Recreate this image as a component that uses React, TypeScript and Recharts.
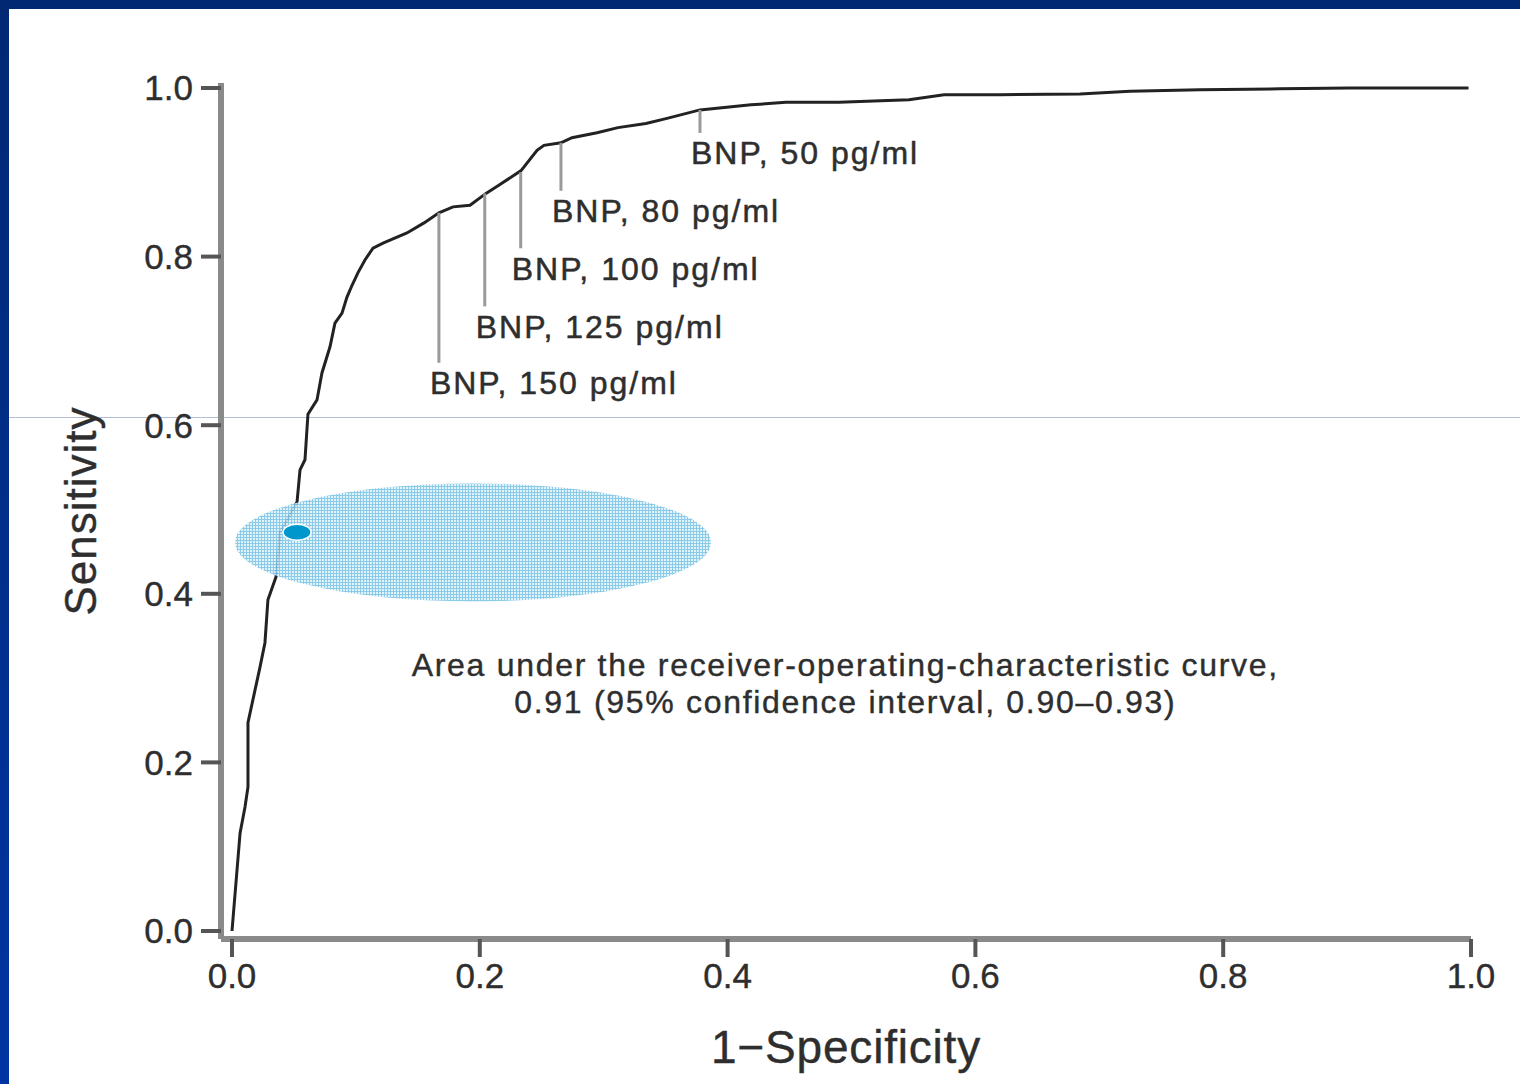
import { ComposedChart, Line, Scatter, XAxis, YAxis, Label, ReferenceDot } from "recharts";

// ROC curve for BNP
const fpr = [
  0, 0.0065, 0.0105, 0.0129, 0.0129, 0.0186, 0.0226, 0.0266, 0.029, 0.0355,
  0.0387, 0.0525, 0.0549, 0.0589, 0.0613, 0.0686, 0.0726, 0.0791, 0.0831, 0.0888,
  0.0928, 0.0969, 0.1017, 0.1073, 0.1138, 0.1219, 0.1332, 0.1412, 0.155, 0.167,
  0.1784, 0.1921, 0.205, 0.2147, 0.2333, 0.2462, 0.2518, 0.2655, 0.2744, 0.2946,
  0.3115, 0.3341, 0.3511, 0.3777, 0.4189, 0.4471, 0.4899, 0.5464, 0.5747, 0.62,
  0.6844, 0.7248, 0.7813, 0.8458, 0.9023, 0.998,
];
const sensitivity = [
  0, 0.116, 0.147, 0.171, 0.247, 0.286, 0.313, 0.342, 0.393, 0.42,
  0.472, 0.509, 0.547, 0.559, 0.613, 0.63, 0.662, 0.693, 0.721, 0.733,
  0.752, 0.766, 0.781, 0.796, 0.81, 0.816, 0.823, 0.828, 0.84, 0.852,
  0.859, 0.861, 0.875, 0.884, 0.902, 0.926, 0.932, 0.935, 0.941, 0.947,
  0.953, 0.958, 0.964, 0.974, 0.98, 0.983, 0.983, 0.986, 0.992, 0.992,
  0.993, 0.996, 0.998, 0.999, 1.0, 1.0,
];

const xTicks = [0, 0.2, 0.4, 0.6, 0.8, 1.0];
const yTicks = [0, 0.2, 0.4, 0.6, 0.8, 1.0];

// cut-off points marked on the curve
const bnpLabels = ["BNP, 150 pg/ml", "BNP, 125 pg/ml", "BNP, 100 pg/ml", "BNP, 80 pg/ml", "BNP, 50 pg/ml"];
const bnpFpr = [0.167, 0.204, 0.233, 0.2655, 0.3777];
const bnpSens = [0.852, 0.875, 0.9, 0.935, 0.974];
// how far (px) each label hangs below its point
const labelDrop = [170, 133, 96, 68, 43];

const ellipsePoint = [{ x: 0.1945, y: 0.461 }];
const markerPoint = [{ x: 0.0525, y: 0.473 }];

const aucText = [
  "Area under the receiver-operating-characteristic curve,",
  "0.91 (95% confidence interval, 0.90\u20130.93)",
];

const curve = fpr.map((x, i) => ({ x, y: sensitivity[i] }));
const thresholds = bnpLabels.map((label, i) => ({ x: bnpFpr[i], y: bnpSens[i], label, drop: labelDrop[i] }));

const FONT = "'Liberation Sans', Arial, Helvetica, sans-serif";
const TEXT = "#2e2e2e";

const ThresholdMark = (props: any) => {
  const { cx, cy, payload } = props;
  return (
    <g>
      <line x1={cx} y1={cy} x2={cx} y2={cy + payload.drop - 20} stroke="#9a9a9a" strokeWidth={3} />
      <text x={cx - 9} y={cy + payload.drop} dy="0.35em" fontSize={32} fill={TEXT} stroke={TEXT} strokeWidth={0.5} fontFamily={FONT} letterSpacing={2}>
        {payload.label}
      </text>
    </g>
  );
};

const CloudShape = (props: any) => {
  const { cx, cy } = props;
  return (
    <g>
      <defs>
        <pattern id="cloudDots" width="3" height="3" patternUnits="userSpaceOnUse">
          <rect width="3" height="3" fill="#dcf0f9" />
          <rect width="3" height="1" fill="#7fc5e4" />
          <rect width="1" height="3" fill="#7fc5e4" />
        </pattern>
      </defs>
      <ellipse cx={cx} cy={cy} rx={238} ry={59} fill="url(#cloudDots)" opacity={0.9} />
    </g>
  );
};

const MarkerShape = (props: any) => {
  const { cx, cy } = props;
  return <ellipse cx={cx} cy={cy} rx={14} ry={8} fill="#0098cc" stroke="#fff" strokeWidth={1.5} />;
};

const AucNote = (props: any) => {
  const { cx, cy } = props;
  return (
    <text x={cx} y={cy} textAnchor="middle" fontSize={32} fill={TEXT} stroke={TEXT} strokeWidth={0.4} fontFamily={FONT} letterSpacing={1.7}>
      <tspan x={cx} dy="0.35em">{aucText[0]}</tspan>
      <tspan x={cx} dy={37}>{aucText[1]}</tspan>
    </text>
  );
};

export default function App() {
  return (
    <div style={{ position: "absolute", left: 0, top: 0, width: 1520, height: 1084, background: "#fff", overflow: "hidden" }}>
      <div style={{ position: "absolute", left: 0, top: 0, width: 1520, height: 9, background: "#002873" }} />
      <div style={{ position: "absolute", left: 0, top: 0, width: 9, height: 1084, background: "linear-gradient(#002873, #0034a2)" }} />
      <div style={{ position: "absolute", left: 9, top: 417, width: 1511, height: 1, background: "#b3bdd9" }} />
      <div style={{ position: "absolute", left: 0, top: 0 }}>
        <ComposedChart width={1520} height={1084} margin={{ top: 83, right: 49, bottom: 85, left: 121 }}>
          <XAxis
            type="number"
            dataKey="x"
            domain={[0, 1]}
            ticks={xTicks}
            padding={{ left: 11, right: 0 }}
            height={60}
            tickFormatter={(v: number) => v.toFixed(1)}
            axisLine={{ stroke: "#8a8a8a", strokeWidth: 6 }}
            tickLine={{ stroke: "#555", strokeWidth: 4 }}
            tickSize={18}
            tickMargin={6}
            tick={{ fontSize: 35, fill: TEXT, stroke: TEXT, strokeWidth: 0.4, fontFamily: FONT }}
          >
            <Label
              content={({ viewBox }: any) => (
                <text x={viewBox.x + viewBox.width / 2} y={viewBox.y + 124} textAnchor="middle" fontSize={46} fill={TEXT} stroke={TEXT} strokeWidth={0.4} fontFamily={FONT} letterSpacing={0.8}>
                  1{"\u2212"}Specificity
                </text>
              )}
            />
          </XAxis>
          <YAxis
            type="number"
            dataKey="y"
            domain={[0, 1]}
            ticks={yTicks}
            padding={{ top: 5, bottom: 8 }}
            width={100}
            tickFormatter={(v: number) => v.toFixed(1)}
            axisLine={{ stroke: "#8a8a8a", strokeWidth: 6 }}
            tickLine={{ stroke: "#555", strokeWidth: 4 }}
            tickSize={20}
            tickMargin={8}
            tick={{ fontSize: 35, fill: TEXT, stroke: TEXT, strokeWidth: 0.4, fontFamily: FONT }}
          >
            <Label
              content={({ viewBox }: any) => {
                const x = viewBox.x - 41;
                const y = viewBox.y + viewBox.height / 2;
                return (
                  <text x={x} y={y} transform={`rotate(-90 ${x} ${y})`} textAnchor="middle" dominantBaseline="central" fontSize={44} fill={TEXT} stroke={TEXT} strokeWidth={0.4} fontFamily={FONT} letterSpacing={1}>
                    Sensitivity
                  </text>
                );
              }}
            />
          </YAxis>
          <Scatter data={thresholds} dataKey="y" shape={ThresholdMark} isAnimationActive={false} />
          <Line data={curve} dataKey="y" type="linear" stroke="#222" strokeWidth={3} dot={false} isAnimationActive={false} />
          <Scatter data={ellipsePoint} dataKey="y" shape={CloudShape} isAnimationActive={false} />
          <Scatter data={markerPoint} dataKey="y" shape={MarkerShape} isAnimationActive={false} />
          <ReferenceDot x={0.495} y={0.3155} r={0} shape={AucNote} />
        </ComposedChart>
      </div>
    </div>
  );
}
